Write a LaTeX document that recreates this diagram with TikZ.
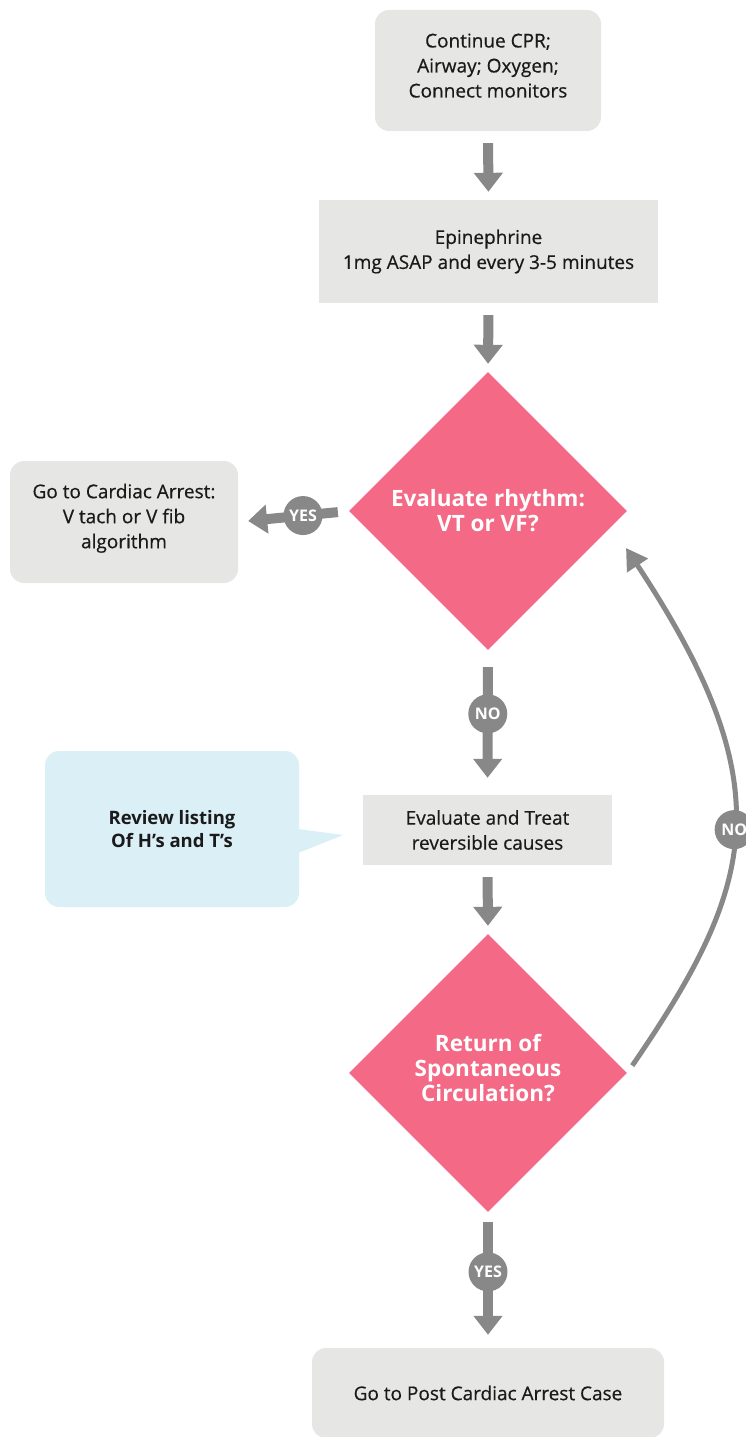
\documentclass[tikz,border=0pt]{standalone}
\usepackage{fontspec}
\setmainfont{Open Sans}
\newfontfamily\stepfont{Open Sans}[FakeBold=0.5]
\usetikzlibrary{shapes.geometric,arrows.meta}

\definecolor{boxgray}{HTML}{E6E6E5}
\definecolor{alertpink}{HTML}{F36986}
\definecolor{arrowgray}{HTML}{878887}
\definecolor{notecyan}{HTML}{DAEFF6}
\definecolor{ink}{HTML}{1A1A1A}

\tikzset{
  box/.style={fill=boxgray, inner sep=0pt, align=center, text=ink,
              font=\stepfont\fontsize{19}{25}\selectfont},
  rbox/.style={box, rounded corners=14pt},
  decision/.style={diamond, aspect=1, fill=alertpink, inner sep=0pt,
                   minimum width=278pt, minimum height=278pt, align=center,
                   text=white, font=\fontsize{22.5}{25}\selectfont\bfseries},
  note/.style={fill=notecyan, rounded corners=14pt, inner sep=0pt,
               align=center, text=ink,
               font=\fontsize{18.5}{23}\selectfont\bfseries},
  flow/.style={draw=arrowgray, line width=10pt,
               -{Triangle[width=28pt,length=19pt]}},
  loopback/.style={draw=arrowgray, line width=5pt,
                   -{Triangle[width=24pt,length=21pt]}},
  tag/.style={circle, fill=arrowgray, minimum size=39pt, inner sep=0pt,
              text=white, font=\fontsize{16}{16}\selectfont\bfseries},
}

\begin{document}
\begin{tikzpicture}[x=1pt,y=-1pt]
  \useasboundingbox (0,0) rectangle (746,1437);

  % steps and decisions
  \node[rbox, minimum width=226pt, minimum height=121pt, text depth=10pt]
    (cpr) at (488,70.5) {Continue CPR;\\Airway; Oxygen;\\Connect monitors};
  \node[box, minimum width=339pt, minimum height=103pt] (epi) at (488.5,251.5)
    {Epinephrine\\1mg ASAP and every 3-5 minutes};
  \node[decision] (rhythm) at (488,511) {Evaluate rhythm:\\VT or VF?};
  \node[rbox, minimum width=228pt, minimum height=122pt, text depth=12pt]
    (vfib) at (124,522) {Go to Cardiac Arrest:\\V tach or V fib\\algorithm};
  \node[box, minimum width=249pt, minimum height=70pt] (causes) at (487.5,830)
    {Evaluate and Treat\\reversible causes};
  \node[decision, text depth=10pt] (rosc) at (488,1073)
    {Return of\\Spontaneous\\Circulation?};
  \node[rbox, minimum width=352pt, minimum height=90pt] (post) at (488,1393)
    {Go to Post Cardiac Arrest Case};

  % callout with its pointer
  \node[note, minimum width=254pt, minimum height=156pt] (review) at (172,829)
    {Review listing\\Of H’s and T’s};
  \fill[notecyan] ([xshift=-1pt]review.east)
    -- ([xshift=44pt,yshift=-6pt]review.east)
    -- ([xshift=-1pt,yshift=-24pt]review.east) -- cycle;

  % connectors
  \coordinate (loopend) at (626,548);
  \draw[flow, shorten <=12pt, shorten >=8pt] (cpr.south) -- (epi.north);
  \draw[flow, shorten <=12pt, shorten >=8pt] (epi.south) -- (rhythm.north);
  \draw[flow, shorten <=11pt, shorten >=10pt] (rhythm.west) --
    node[tag, pos=0.414] {YES} (vfib.east);
  \draw[flow, shorten <=17pt, shorten >=17pt] (rhythm.south) --
    node[tag, pos=0.44] {NO} (causes.north);
  \draw[flow, shorten <=12pt, shorten >=8pt] (causes.south) -- (rosc.north);
  \draw[flow, shorten <=10pt, shorten >=13pt] (rosc.south) --
    node[tag, pos=0.44] {YES} (post.north);
  \draw[loopback, shorten <=9pt] (rosc.east)
    .. controls (756,885) and (784,787) .. node[tag, pos=0.5] {NO} (loopend);
\end{tikzpicture}
\end{document}
